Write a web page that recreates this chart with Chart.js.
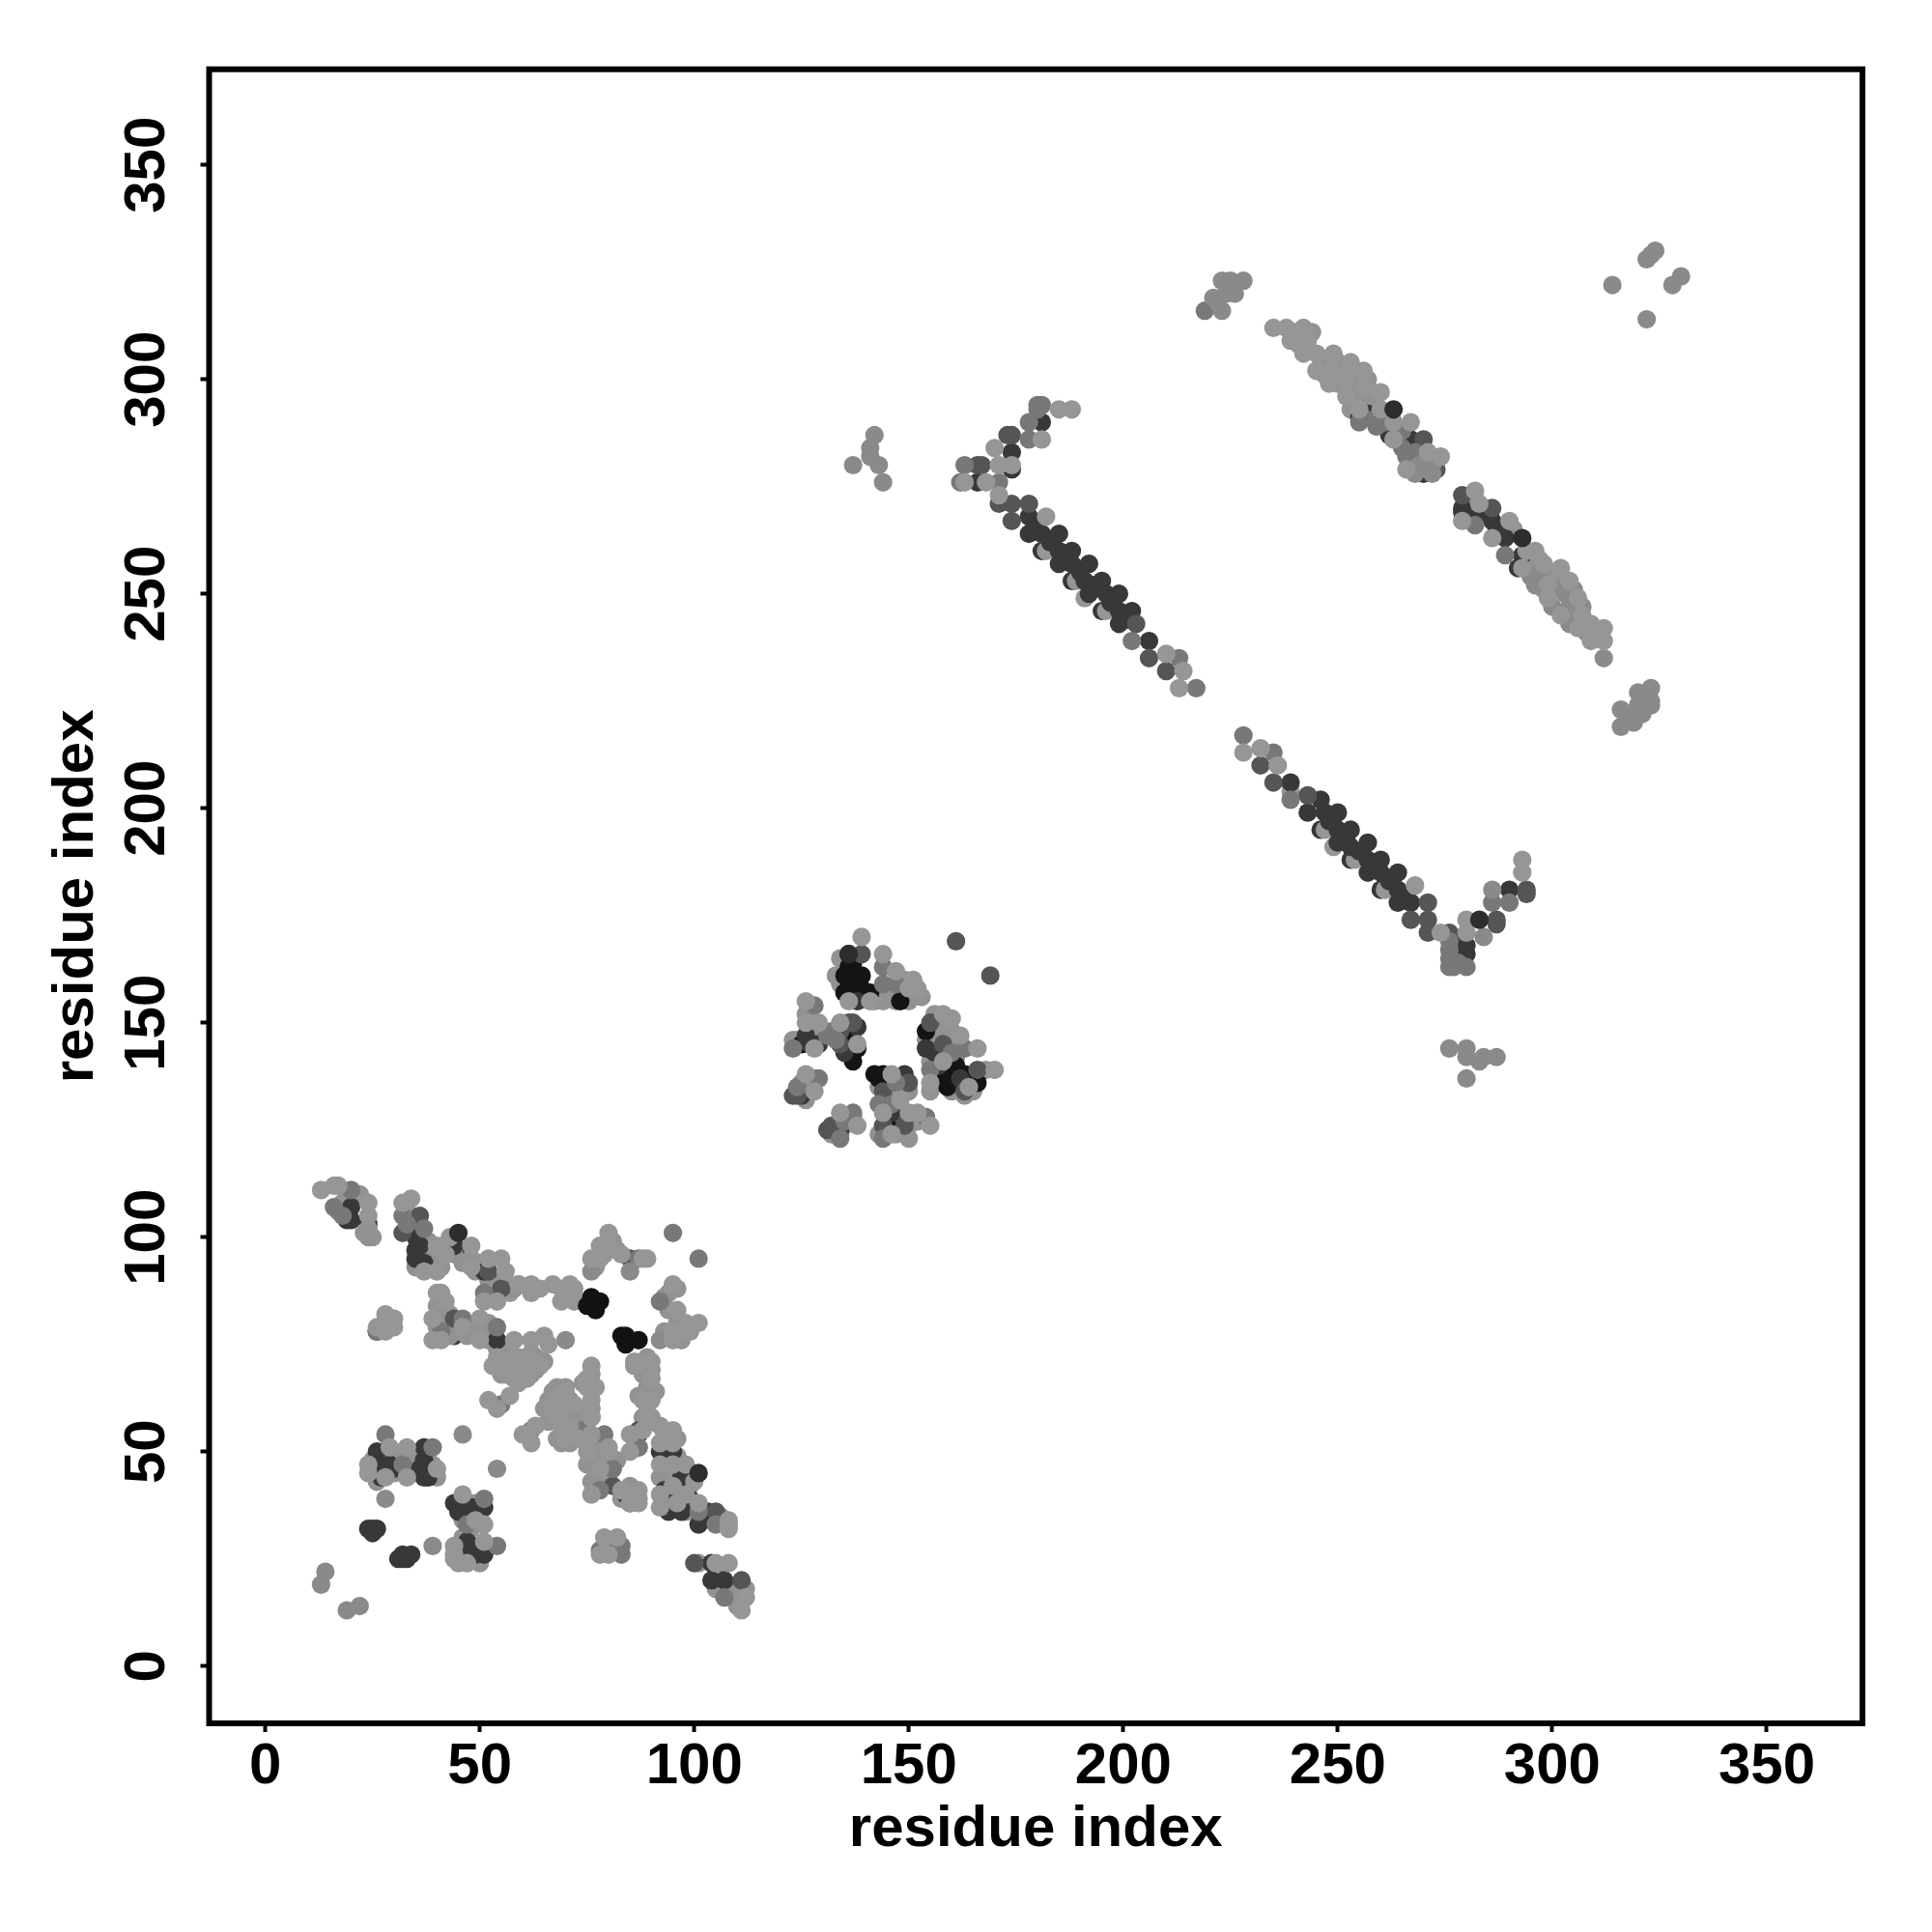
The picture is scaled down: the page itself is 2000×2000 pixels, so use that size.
<!DOCTYPE html>
<html>
<head>
<meta charset="utf-8">
<title>residue contact map</title>
<style>
  html, body { margin: 0; padding: 0; background: #fff; }
  canvas { display: block; }
</style>
<script src="https://cdn.jsdelivr.net/npm/chart.js@4"></script>
</head>
<body>
<canvas id="chart" width="2000" height="2000"></canvas>
<script>
/* Tick labels and axis names */
var tickValues = [0, 50, 100, 150, 200, 250, 300, 350];
var axisTitle = 'residue index';

/* Contact pairs [residue, residue], one list per grey level */
var darkUnder = [[181,260],[188,253],[195,246],[246,195],[253,188],[260,181],[166,276],[174,279],
  [19,104],[24,103],[45,97],[36,97],[36,95],[54,88],[41,82],[44,77],[54,76],[26,78],[78,53],[86,40],[85,38]];

var lightUnder = [[182,260],[189,253],[196,246],[191,249],[247,195],[249,191],[254,188],[261,181],[239,204],
  [57,87],[62,87],[70,86],[72,86],[71,89],[67,89],[62,89],[59,89],[63,88],[64,88],[69,88],[71,87],[72,88],[69,85],[72,85]];

/* Light contacts that sit inside the dense patches, under the darker ones */
var lightFill = [[240,311],[244,311],[241,308],[246,305],[247,304],[247,301],[250,304],[251,302],[250,299],[254,302],[254,299],[254,296],[257,300],[258,297],[258,295],[253,293],
  [281,272],[284,270],[288,265],[291,265],[295,258],[297,258],[300,255],[301,254],
  [142,155],[143,157],[147,155],[150,155],[146,157],[148,157],[151,157],[149,160],[153,156],[144,155],[133,161],[134,159],[134,165],
  [126,152],[127,148],[124,146],[130,147],[123,146],[129,147],[125,136],[128,137],[127,136],[126,132],[135,126],[132,124],[134,124],[137,128],
  [143,135],[145,135],[147,133],[145,133],[148,127],[143,124],[147,124],[150,126],[152,127],[148,136],[150,134],[149,129],[150,123],
  [156,152],[157,149],[154,146],[155,141],[156,138],[155,134],[157,136],[160,148],[157,146],[161,142],[164,137],[162,145],[159,145],[155,147],[165,134],[168,139],[163,133],[160,134],
  [18,108],[19,109],[17,106],[22,110],[24,102],[24,100],[25,100],[23,101],
  [33,106],[34,103],[36,101],[38,99],[40,96],[39,93],[41,93],[42,98],[35,93],[36,93],[38,95],
  [44,96],[46,94],[48,95],[49,92],[50,94],[52,90],[54,90],[56,89],[58,88],
  [40,84],[42,83],[40,79],[42,79],[43,77],[43,82],[41,80],[45,78],[47,77],[48,79],[52,78],[52,80],[52,76],[54,74],
  [54,71],[55,68],[57,70],[58,67],[60,69],[60,70],[62,68],[63,69],[65,71],[55,73],[57,74],[59,72],[62,73],[63,72],
  [67,64],[68,65],[70,65],[71,62],[73,60],[72,58],[70,59],[68,61],[66,57],[70,56],[72,55],[74,58],[68,53],[69,52],[71,52],[65,60],[66,62],
  [75,52],[77,52],[75,47],[78,50],[79,48],[82,48],[76,43],[79,43],[80,44],[83,39],[85,42],[87,39],
  [25,48],[30,49],[30,45],[26,43],[31,48],[28,48],[32,49],[33,47],[34,50],[35,47],[35,45],[38,47],[39,47],[40,44],
  [46,36],[46,34],[50,35],[48,32],[46,30],[49,28],[50,27],[49,38],[46,39],[50,38],[44,25],[46,25],[50,24],
  [77,93],[79,96],[81,99],[82,97],[93,86],[94,87],[96,88],[94,83],[96,80],[97,76],[99,78],[93,78],
  [87,70],[89,72],[88,68],[90,69],[89,65],[91,64],[87,63],[89,61],[90,58],[88,58],[88,56],[76,68],[74,66],[76,66],[76,64],[76,60],
  [93,54],[96,53],[93,49],[96,49],[92,44],[94,44],[94,40],[97,42],[99,42],[99,38],[94,38],[98,36],[100,36],[103,36],[106,35],[108,33],
  [101,24],[106,22],[105,18],[108,18],[110,18],[109,16],[110,14],[112,18]];

var blackPts = [[136,166],[136,163],[136,160],[139,161],[138,157],[148,155],[125,145],[136,143],[138,144],
  [137,141],[143,137],[145,126],[145,129],[161,140],[158,138],[159,135],[166,136],[154,148],[142,138],
  [137,146],[136,147],[137,144],[135,157],[137,164],[135,161],[139,158],[141,157],[160,137],[163,138],[144,138],[146,125]];

var darkPts = [[181,290],[174,283],[178,268],[178,264],[181,264],[185,264],[185,260],[188,260],[185,257],[188,257],[192,257],
  [191,253],[195,253],[192,250],[196,250],[199,250],[199,246],[202,246],[199,243],[206,239],
  [180,265],[183,262],[187,259],[190,255],[193,252],[197,248],[201,244],
  [239,206],[246,202],[243,199],[247,199],[250,199],[250,195],[253,195],[250,192],[253,191],[257,192],[257,188],[260,188],
  [257,185],[260,185],[264,185],[264,181],[264,178],[267,178],[280,166],[290,181],
  [248,197],[252,193],[255,190],[259,186],[262,183],[266,180],[280,168],[278,168],
  [267,286],[270,278],[257,292],[262,287],[255,291],[279,270],[286,267],[289,263],[293,259],[292,256],[279,269],[280,268],[283,268],[287,265],
  [138,149],[129,145],[138,155],[149,138],[154,144],[162,137],[146,129],[125,133],[134,125],[127,145],[126,147],[135,143],[156,143],[157,140],
  [20,107],[20,104],[35,97],[35,95],[44,98],[51,92],[54,76],[36,98],[37,94],[35,100],
  [26,50],[37,51],[37,48],[26,46],[29,47],[37,44],[38,44],[25,32],[24,32],[25,31],[26,32],[27,47],[27,44],[30,46],[36,46],[38,46],
  [32,26],[34,26],[31,25],[33,25],[32,25],[44,38],[48,37],[51,37],[47,29],[47,26],[51,26],[45,36],[48,35],[46,27],[48,28],[49,26],
  [84,40],[92,50],[95,50],[94,36],[97,36],[97,44],[101,33],[104,20],[107,20],[104,24],[93,41],[96,41],[99,39],[103,36]];

var slatePts = [[174,287],[173,287],[166,280],[167,280],[171,271],[174,271],[178,271],[174,267],[203,243],[206,235],[210,232],
  [232,210],[235,206],[243,203],[267,174],[271,178],[271,174],[271,171],[276,171],[287,173],[287,174],[294,181],[294,180],
  [270,286],[273,279],[279,273],[286,270],
  [161,169],[169,161],[139,166],[136,150],[134,145],[123,133],[131,125],[149,126],[144,126],[144,134],[150,136],[155,150],
  [158,145],[166,139],[163,134],[134,148],[137,150],[124,133],[132,126],
  [36,105],[32,101],[52,92],[55,88],[44,81],[85,95],[87,55],[81,42],[82,27],[87,54],[105,36],[100,24],[111,20]];

var midPts = [[180,294],[181,294],[180,293],[178,290],[163,280],[162,276],[171,276],[202,239],[213,235],[217,228],
  [228,217],[235,213],[239,202],[276,167],[276,163],[277,163],[280,163],[286,178],[290,178],[178,286],
  [276,165],[278,164],[276,169],
  [259,289],[266,282],[255,290],[282,266],[289,259],[219,316],[256,291],[259,291],[261,290],[265,288],[265,284],[268,283],
  [128,154],[144,163],[144,159],[147,159],[129,137],[137,129],[123,144],[147,136],[154,128],[134,123],[144,123],[163,144],[155,139],
  [132,148],[133,146],[131,147],[124,135],[135,127],[143,131],[146,131],[160,143],
  [20,111],[16,107],[32,105],[37,102],[51,87],[46,81],[41,78],[54,79],[26,78],[28,54],[39,51],[32,47],[51,39],[47,33],[54,28],
  [79,54],[87,51],[74,55],[55,61],[62,55],[92,85],[87,95],[95,101],[101,95],[81,46],[78,41],[87,51],
  [101,36],[105,33],[107,16],[18,105],[33,103],[83,28],[79,28],[81,28],[80,27],[78,27],[83,26]];

var palePts = [[284,170],[286,181],[296,252],[312,235],
  [323,228],[320,227],[323,225],[323,224],[320,224],[316,223],[319,220],[316,219],[321,222],[318,222],
  [221,319],[223,316],[224,320],[226,320],[223,323],[225,323],[228,323],[222,318],
  [314,322],[322,314],[322,328],[324,330],[323,329],[328,322],[330,324],
  [137,280],[142,287],[141,284],[143,280],[144,276],[141,282],
  [276,144],[280,144],[280,142],[284,142],[287,142],[283,141],[280,137],
  [39,28],[28,39],[46,54],[54,46],[14,22],[13,19],[22,14],[19,13],[70,76],[76,92],[92,76],[85,92],
  [269,280],[272,280],[272,278],[268,278],[271,279],
  [297,255],[295,254],[298,251],[301,251],[303,250],[305,251],[300,247],[304,247],[307,247],[304,243],[308,241],[310,240],[311,241]];

var lightPts = [[185,293],[188,293],[181,286],[170,284],[171,280],[174,280],[163,276],[168,276],[171,273],[182,268],[210,236],[214,232],[213,228],
  [228,213],[232,214],[236,210],[274,171],[280,174],[280,171],[293,188],[293,185],[268,182],
  [235,312],[238,312],[242,312],[239,309],[243,309],[242,306],[245,306],[245,302],[249,306],[249,302],[248,299],[253,304],[256,302],
  [252,300],[252,296],[256,298],[260,297],[260,293],[255,293],[263,290],[267,290],[263,286],[271,283],[274,282],[266,279],
  [282,274],[279,267],[283,271],[286,263],[290,267],[293,256],[296,260],[294,260],[298,257],[302,256],[299,252],[304,253],
  [299,249],[306,249],[302,245],[307,245],[306,242],[309,243],[312,242],[309,239],[312,239],
  [139,170],[144,166],[147,162],[151,160],[150,158],[152,158],[136,155],[141,155],
  [126,155],[126,150],[129,150],[134,150],[128,144],[138,145],[126,138],[128,134],[134,129],[138,126],
  [146,138],[148,132],[144,129],[150,129],[152,129],[155,126],[146,124],
  [158,152],[160,151],[162,147],[166,144],[158,141],[155,136],[164,135],[170,139],
  [13,111],[16,112],[17,112],[24,108],[24,105],[32,108],[34,109],[40,98],[42,96],[43,100],[37,92],[40,92],
  [48,98],[48,93],[52,95],[55,95],[56,92],[51,85],[54,85],[59,89],[40,87],[41,87],[42,85],[39,81],[39,76],[41,76],
  [46,79],[50,81],[50,76],[58,76],[62,76],[65,77],[66,75],[28,82],[30,81],[26,79],[30,79],[28,78],
  [53,70],[56,71],[56,68],[59,68],[59,66],[62,71],[64,70],[61,67],[58,72],[54,72],[61,72],
  [52,62],[54,60],[57,63],[70,64],[67,62],[72,61],[68,58],[71,56],[70,53],[73,53],[67,60],[69,60],[69,56],
  [63,56],[60,54],[62,52],[76,58],[75,50],[80,50],[78,46],[76,40],[83,41],[87,41],[87,38],[85,38],
  [24,47],[24,45],[29,51],[33,51],[28,44],[33,44],[40,46],[46,40],[49,34],[51,33],[51,29],[44,28],[44,26],[45,24],[47,24],
  [80,101],[78,98],[80,98],[76,95],[78,95],[83,96],[88,95],[89,95],[95,89],[96,83],[98,80],[101,80],[98,78],[95,78],[95,76],
  [90,71],[86,71],[86,70],[90,67],[76,70],[75,67],[77,65],[75,65],[76,62],[88,62],[90,62],[89,59],[76,58],[76,54],
  [85,54],[88,55],[95,55],[92,56],[95,52],[80,51],[85,50],[89,57],[92,52],[92,47],[95,47],[98,47],[100,43],[95,42],[98,40],
  [92,40],[92,37],[96,38],[101,38],[108,34],[108,32],[79,30],[82,30],[78,26],[80,26],[105,24],[108,24],[112,16],[111,13]];

var darkTop = [[283,174],[263,293],[293,263],[45,101],[101,45],[136,166]];

var blackTop = [[76,86],[75,84],[78,85],[77,83],[84,77],[83,77],[87,76],[84,75]];

/* Draw order runs from the bottom layer up */
var layers = [
  [darkUnder, '#383838'],
  [lightUnder, '#969696'],
  [lightFill, '#929292'],
  [blackPts, '#141414'],
  [darkPts, '#383838'],
  [slatePts, '#555555'],
  [midPts, '#787878'],
  [palePts, '#8a8a8a'],
  [lightPts, '#969696'],
  [darkTop, '#2d2d2d'],
  [blackTop, '#121212']
];

/* The box round the plot */
var framePlugin = {
  id: 'frame',
  afterDraw: function (chart) {
    var a = chart.chartArea;
    var ctx = chart.ctx;
    ctx.save();
    ctx.strokeStyle = '#000';
    ctx.lineWidth = 6;
    ctx.strokeRect(a.left, a.top, a.right - a.left, a.bottom - a.top);
    ctx.restore();
  }
};

function fixedTicks(scale) {
  scale.ticks = tickValues.map(function (v) { return { value: v }; });
}

var tickFont = { family: "'Liberation Sans', Arial, sans-serif", size: 60, weight: 'bold' };
var titleFont = { family: "'Liberation Sans', Arial, sans-serif", size: 60, weight: 'bold' };
var tickGrid = { drawOnChartArea: false, drawTicks: true, tickLength: 9, tickWidth: 4, tickColor: '#000' };

new Chart(document.getElementById('chart').getContext('2d'), {
  type: 'scatter',
  data: {
    datasets: layers.map(function (layer, i) {
      return {
        data: layer[0].map(function (p) { return { x: p[0], y: p[1] }; }),
        backgroundColor: layer[1],
        pointRadius: 9.6,
        pointBorderWidth: 0,
        order: layers.length - i
      };
    })
  },
  options: {
    responsive: false,
    animation: false,
    layout: { padding: { top: 71.7, right: 72, left: 0, bottom: 0 } },
    plugins: { legend: { display: false }, tooltip: { enabled: false } },
    scales: {
      x: {
        type: 'linear',
        min: -13.1,
        max: 372.3,
        afterBuildTicks: fixedTicks,
        afterFit: function (scale) { scale.height = 216; },
        grid: tickGrid,
        border: { display: false },
        ticks: { font: tickFont, color: '#000', padding: 0, maxRotation: 0, autoSkip: false,
          callback: function (v) { return String(v); } },
        title: { display: true, text: axisTitle, font: titleFont, color: '#000', padding: { top: 0, bottom: 70 } }
      },
      y: {
        type: 'linear',
        min: -13.35,
        max: 372.3,
        afterBuildTicks: fixedTicks,
        afterFit: function (scale) { scale.width = 216.5; },
        grid: tickGrid,
        border: { display: false },
        ticks: { font: tickFont, color: '#000', padding: 4, minRotation: 90, maxRotation: 90, crossAlign: 'center', autoSkip: false,
          callback: function (v) { return String(v); } },
        title: { display: true, text: axisTitle, font: titleFont, color: '#000', padding: { top: 43, bottom: 0 } }
      }
    }
  },
  plugins: [framePlugin]
});
</script>
</body>
</html>
